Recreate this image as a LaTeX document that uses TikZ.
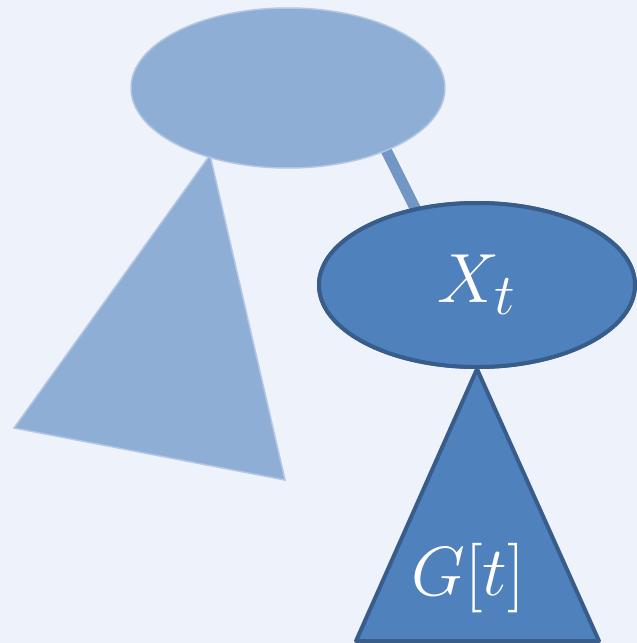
\documentclass[tikz,border=0pt]{standalone}
\usetikzlibrary{shapes.geometric}

\definecolor{bgc}{HTML}{EEF2FA}
\definecolor{fadefill}{HTML}{8FAED6}
\definecolor{fadeline}{HTML}{B3C6E3}
\definecolor{fadeedge}{HTML}{7397C4}
\definecolor{darkfill}{HTML}{4F81BD}
\definecolor{darkline}{HTML}{385D8A}

\tikzset{
  faded/.style={fill=fadefill, draw=fadeline, line width=1.5pt},
  dark/.style={fill=darkfill, draw=darkline, line width=4pt, line join=round},
  bigtext/.style={text=white, font=\Huge, scale=2.8}
}

\begin{document}
\begin{tikzpicture}[x=1pt, y=-1pt]

\fill[bgc] (0,0) rectangle (637,643);
\useasboundingbox (0,0) rectangle (637,643);

% faded part of the tree
\coordinate (e1) at (385,148);
\coordinate (e2) at (418,214);
\draw[fadeedge, line width=11pt] (e1) -- (e2);

\draw[faded] (210,155) -- (14,428) -- (285,480) -- cycle;
\node[ellipse, faded, minimum width=314pt, minimum height=160pt] (root) at (288,88) {};

% subtree at t
\node[ellipse, dark, minimum width=316pt, minimum height=164pt] (xt) at (477,285) {};
\draw[dark] (xt.south) -- (356,641) -- (599,641) -- cycle;
\node[ellipse, dark, minimum width=316pt, minimum height=164pt] at (477,285) {};
\node[bigtext] (xtlabel) at (xt) {$X_t$};

\node[bigtext] (gt) at (468,578) {$G[t]$};

\end{tikzpicture}
\end{document}
